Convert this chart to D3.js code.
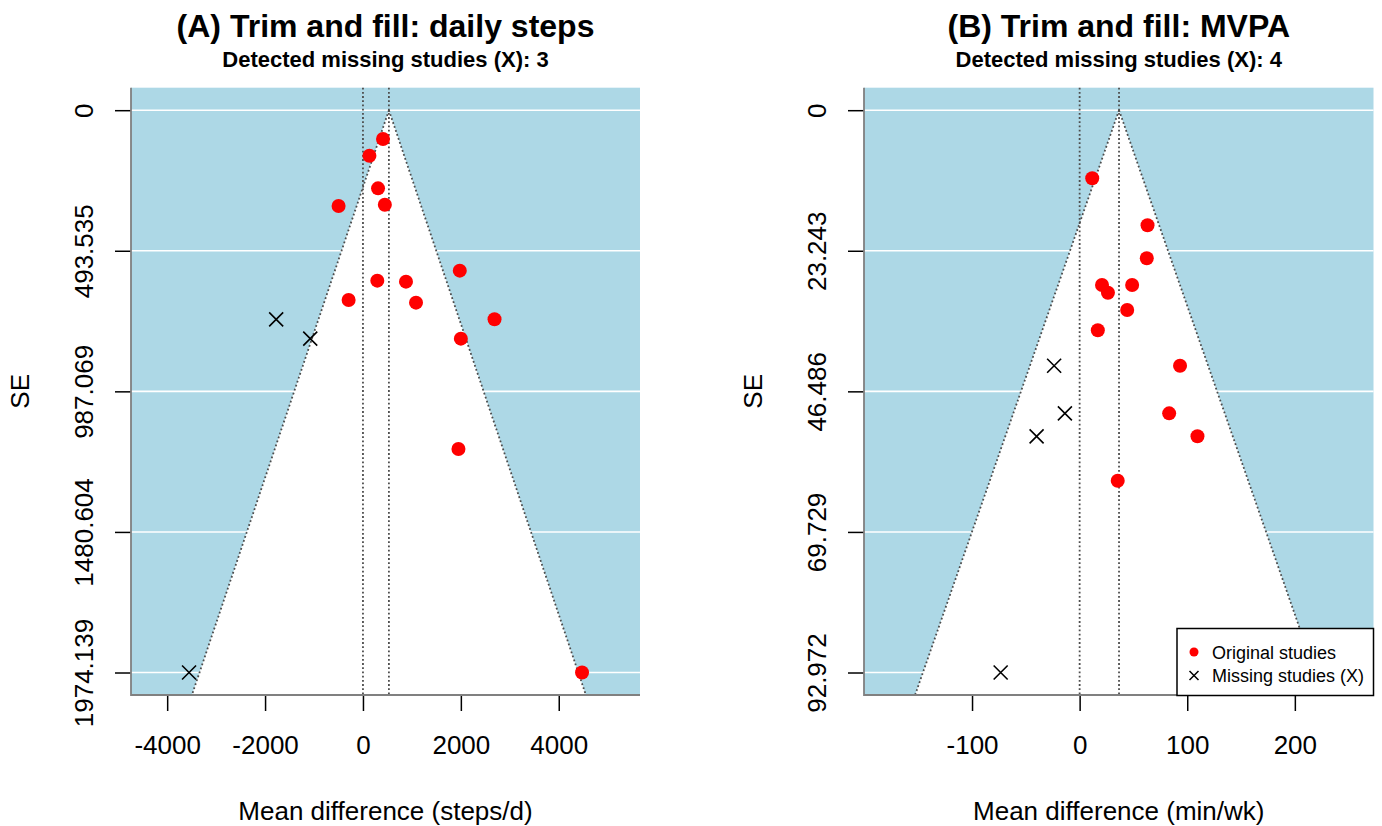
<!DOCTYPE html>
<html lang="en">
<head>
<meta charset="UTF-8">
<script src="https://d3js.org/d3.v7.min.js"></script>
<title>Trim and fill funnel plots</title>
<style>
  body { margin: 0; background: #fff; }
  svg { display: block; font-family: "Liberation Sans", Arial, sans-serif; }
</style>
</head>
<body>
<svg width="1382" height="826"></svg>
<script>
// panel A: daily steps
const stepsMD = [410, 132, 308, 447, -498, 1978, 293, 879, -293, 1084, 2688, 2000, 1951, 4476];
const stepsSE = [101.1, 159.7, 274.3, 331.7, 336.3, 563.4, 598.5, 602, 666.4, 675.7, 734.2, 802.1, 1189.5, 1974.139];
const stepsMissMD = [-1773, -1077, -3553];
const stepsMissSE = [734.2, 802.1, 1974.139];
const stepsCenter = 530;
const stepsYTicks = [0, 493.535, 987.069, 1480.604, 1974.139];
const stepsXTicks = [-4000, -2000, 0, 2000, 4000];

// panel B: MVPA
const mvpaMD = [11.7, 63.1, 62.4, 20.8, 48.8, 26.3, 44.2, 16.9, 93.3, 83.2, 109.5, 35.4, 142.9];
const mvpaSE = [11.26, 19.03, 24.49, 28.9, 28.9, 30.18, 33.04, 36.39, 42.25, 50.12, 53.92, 61.26, 92.972];
const mvpaMissMD = [-23.7, -13.7, -40.0, -73.4];
const mvpaMissSE = [42.25, 50.12, 53.92, 92.972];
const mvpaCenter = 36.6;
const mvpaYTicks = [0, 23.243, 46.486, 69.729, 92.972];
const mvpaXTicks = [-100, 0, 100, 200];

const legendLabels = ['Original studies', 'Missing studies (X)'];

let svg = d3.select('svg');

function drawPanel(p) {
    let x = d3.scaleLinear().domain(p.xDomain).range([p.left, p.right]);
    let y = d3.scaleLinear().domain(p.yDomain).range([p.top, p.bottom]);
    let g = svg.append('g');
    let seMax = p.yDomain[1];

    // background
    g.append('rect')
        .attr('x', p.left).attr('y', p.top)
        .attr('width', p.right - p.left).attr('height', p.bottom - p.top)
        .attr('fill', '#ADD8E6');

    // white funnel
    let funnel = [[p.center, 0], [p.center - 1.96 * seMax, seMax], [p.center + 1.96 * seMax, seMax]];
    g.append('polygon')
        .attr('points', funnel.map(d => x(d[0]) + ',' + y(d[1])).join(' '))
        .attr('fill', '#fff');

    // grid
    g.selectAll('.grid')
        .data(p.yTicks)
        .enter()
        .append('line')
        .attr('x1', p.left).attr('x2', p.right)
        .attr('y1', d => y(d)).attr('y2', d => y(d))
        .attr('stroke', '#fff').attr('stroke-width', 1.6);

    // funnel sides
    [funnel[1], funnel[2]].forEach(d => {
        g.append('line')
            .attr('x1', x(funnel[0][0])).attr('y1', y(funnel[0][1]))
            .attr('x2', x(d[0])).attr('y2', y(d[1]))
            .attr('stroke', '#4d4d4d').attr('stroke-width', 1.8)
            .attr('stroke-dasharray', '1.8,2.4');
    });

    // vertical reference lines
    [0, p.center].forEach(v => {
        g.append('line')
            .attr('x1', x(v)).attr('x2', x(v))
            .attr('y1', p.top).attr('y2', p.bottom)
            .attr('stroke', '#4d4d4d').attr('stroke-width', 1.8)
            .attr('stroke-dasharray', '1.8,2.4');
    });

    // original studies
    g.selectAll('.pt')
        .data(p.md)
        .enter()
        .append('circle')
        .attr('cx', d => x(d))
        .attr('cy', (d, i) => y(p.se[i]))
        .attr('r', 7)
        .attr('fill', '#FF0000');

    // filled (missing) studies
    let s = 7;
    g.selectAll('.miss')
        .data(p.missMD)
        .enter()
        .append('path')
        .attr('d', (d, i) => {
            let cx = x(d), cy = y(p.missSE[i]);
            return `M${cx - s},${cy - s}L${cx + s},${cy + s}M${cx - s},${cy + s}L${cx + s},${cy - s}`;
        })
        .attr('stroke', '#000').attr('stroke-width', 1.6).attr('fill', 'none');

    // axes
    let xAxis = g.append('g')
        .attr('transform', `translate(0,${p.bottom})`)
        .call(d3.axisBottom(x).tickValues(p.xTicks).tickSize(16).tickPadding(25).tickFormat(d => d));
    let yAxis = g.append('g')
        .attr('transform', `translate(${p.left},0)`)
        .call(d3.axisLeft(y).tickValues(p.yTicks).tickSize(16).tickFormat((d, i) => p.yLabels[i]));
    [xAxis, yAxis].forEach(a => {
        a.select('.domain').remove();
        a.selectAll('.tick line').attr('stroke', '#000').attr('stroke-width', 1.5);
        a.selectAll('.tick text').attr('font-size', 26).attr('fill', '#000')
            .style('font-family', '"Liberation Sans", Arial, sans-serif');
    });
    yAxis.selectAll('.tick text')
        .attr('transform', 'rotate(-90)')
        .attr('x', 0).attr('y', -38).attr('dy', 0)
        .attr('text-anchor', 'middle');

    g.append('path')
        .attr('d', `M${p.left},${p.top}V${p.bottom}H${p.right}`)
        .attr('fill', 'none').attr('stroke', '#808080').attr('stroke-width', 1.8);

    // texts
    let cx = (p.left + p.right) / 2;
    g.append('text').attr('x', cx).attr('y', 37).attr('text-anchor', 'middle')
        .attr('font-size', 32).attr('font-weight', 'bold').text(p.title);
    g.append('text').attr('x', cx).attr('y', 66.5).attr('text-anchor', 'middle')
        .attr('font-size', 22).attr('font-weight', 'bold').text(p.subtitle);
    g.append('text').attr('x', cx).attr('y', 820).attr('text-anchor', 'middle')
        .attr('font-size', 26).text(p.xLabel);
    g.append('text')
        .attr('transform', `translate(${p.left - 102},${(p.top + p.bottom) / 2}) rotate(-90)`)
        .attr('text-anchor', 'middle').attr('font-size', 26).text('SE');

    return { g, x, y };
}

drawPanel({
    left: 131, right: 640, top: 87.7, bottom: 695,
    xDomain: [-4739, 5660], yDomain: [-78.97, 2053.1],
    md: stepsMD, se: stepsSE, missMD: stepsMissMD, missSE: stepsMissSE,
    center: stepsCenter, yTicks: stepsYTicks, xTicks: stepsXTicks,
    yLabels: stepsYTicks.map(d => d === 0 ? '0' : d3.format('.3f')(d)),
    title: '(A) Trim and fill: daily steps',
    subtitle: 'Detected missing studies (X): 3',
    xLabel: 'Mean difference (steps/d)'
});

let b = drawPanel({
    left: 864, right: 1373.5, top: 87.7, bottom: 695,
    xDomain: [-200.4, 273.1], yDomain: [-3.719, 96.691],
    md: mvpaMD, se: mvpaSE, missMD: mvpaMissMD, missSE: mvpaMissSE,
    center: mvpaCenter, yTicks: mvpaYTicks, xTicks: mvpaXTicks,
    yLabels: mvpaYTicks.map(d => d === 0 ? '0' : d3.format('.3f')(d)),
    title: '(B) Trim and fill: MVPA',
    subtitle: 'Detected missing studies (X): 4',
    xLabel: 'Mean difference (min/wk)'
});

// legend (bottom right of panel B)
let lw = 196.5, lh = 67;
let lx = 1373.5 - lw, ly = 695.5 - lh;
let leg = svg.append('g').attr('transform', `translate(${lx},${ly})`);
leg.append('rect').attr('width', lw).attr('height', lh)
    .attr('fill', '#fff').attr('stroke', '#000').attr('stroke-width', 1.5);
leg.append('circle').attr('cx', 17).attr('cy', 23.5).attr('r', 4.5).attr('fill', '#FF0000');
leg.append('path').attr('d', 'M12.5,42.5L21.5,51.5M12.5,51.5L21.5,42.5')
    .attr('stroke', '#000').attr('stroke-width', 1.5);
leg.selectAll('.lt')
    .data(legendLabels)
    .enter()
    .append('text')
    .attr('x', 35).attr('y', (d, i) => 30 + i * 23.5)
    .attr('font-size', 18)
    .text(d => d);
</script>
</body>
</html>
